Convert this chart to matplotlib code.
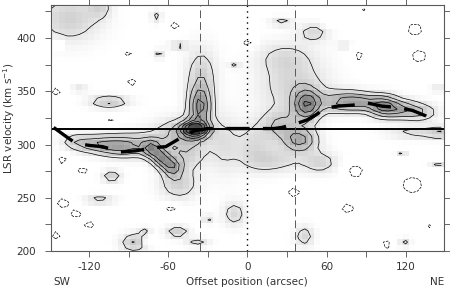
import numpy as np
import matplotlib
matplotlib.use("Agg")
import matplotlib.pyplot as plt

plt.rcParams['axes.unicode_minus'] = False

# emission components: offset ("), velocity (km/s), widths, peak (in contour units)
blob_x = [-40, -36, -35, -50, -18, -73, -65, -57, -52, -85, -45,
          -112, -95, -130, -105, -127, -103, -112, -86, -78, -53, -38, -30,
          -135, -112, -69, -67, -52,
          45, 40, 25, 35, 28, 50, 5, 20, 55,
          70, 85, 103, 117, 132, 130, 147,
          43, 26, 73, 145, 117, 119, 145, -10, -10]
blob_v = [314, 335, 365, 310, 300, 296, 287, 279, 263, 300, 290,
          300, 297, 303, 340, 352, 270, 248, 208, 218, 218, 208, 230,
          418, 430, 420, 385, 393,
          337, 304, 318, 355, 382, 405, 300, 285, 283,
          340, 340, 336, 333, 330, 311, 311,
          214, 415, 393, 352, 292, 208, 281, 235, 374]
blob_sx = [7, 6, 8, 14, 8, 5, 5, 5, 10, 14, 10,
           12, 10, 8, 10, 4, 5, 8, 7, 3, 6, 6, 3,
           16, 6, 3, 3, 5,
           7, 9, 10, 18, 15, 8, 10, 15, 9,
           12, 10, 8, 9, 9, 16, 6,
           5, 6, 4, 4, 3, 3, 5, 6, 3]
blob_sv = [5, 13, 18, 10, 20, 6, 6, 6, 10, 8, 10,
           6, 6, 5, 4, 2, 4, 3, 6, 3, 4, 3, 3,
           15, 8, 4, 3, 3,
           10, 8, 10, 18, 10, 6, 15, 8, 7,
           7, 6, 7, 6, 6, 4, 4,
           7, 3, 2, 2, 2, 3, 2, 8, 2]
blob_amp = [6.0, 4.0, 1.7, 2.2, 1.1, 3.2, 3.6, 3.2, 1.8, 1.8, 1.5,
            2.6, 1.6, 1.4, 2.2, 1.4, 1.9, 1.5, 2.1, 1.3, 1.9, 1.4, 1.3,
            1.8, 1.4, 1.4, 1.4, 1.4,
            4.2, 3.2, 2.0, 1.6, 1.1, 1.5, 1.3, 1.4, 1.6,
            2.4, 2.4, 3.8, 2.5, 1.7, 1.4, 1.4,
            1.6, 1.4, 1.4, 1.3, 1.3, 1.4, 1.3, 1.6, 1.3]

# negative (dashed) patches
neg_x = [-144, -145, -90, -88, -55, -103, -140, -125, -140, -130, -145, -120, -58, -75,
         82, 35, 76, 125, 137, 105, 127, 130, 0, 62, 85, 87]
neg_v = [395, 350, 385, 358, 412, 324, 285, 275, 245, 235, 215, 225, 240, 210,
         275, 255, 240, 262, 222, 206, 408, 383, 395, 414, 383, 425]
neg_s = [3, 4, 3, 4, 4, 3, 4, 4, 5, 4, 4, 4, 4, 3,
         6, 5, 5, 8, 3, 4, 6, 6, 4, 3, 4, 3]

# model rotation curve (thick dashes)
curve_x = [-147, -137, -130, -119, -110, -96, -85, -71, -62, -51, -40, -30, 0, 20, 26,
           38, 45, 52, 59, 68, 80, 91, 102, 112, 125, 135, 144]
curve_v = [316, 307, 301, 299, 298, 293, 294, 297, 298, 306, 313, 315, 315, 315, 316,
           320, 323, 328, 334, 336, 337, 339, 336, 335, 332, 327, 320]

xs = np.arange(-150, 150.1, 4.5)
vs = np.arange(198, 433, 5.2)
X, V = np.meshgrid(xs, vs)
field = np.zeros_like(X)
for x0, v0, sx, sv, a in zip(blob_x, blob_v, blob_sx, blob_sv, blob_amp):
    field += a * np.exp(-0.5 * (((X - x0) / sx) ** 2 + ((V - v0) / sv) ** 2))
for x0, v0, s in zip(neg_x, neg_v, neg_s):
    field -= 1.5 * np.exp(-0.5 * (((X - x0) / s) ** 2 + ((V - v0) / s) ** 2))

fig = plt.figure(figsize=(4.5, 2.89), dpi=100)
ax = fig.add_axes([51/450, 38/289, 393/450, 246/289])

ax.imshow(field, origin='lower', cmap='gray_r', vmin=0, vmax=10,
          extent=[xs[0]-2.25, xs[-1]+2.25, vs[0]-2.6, vs[-1]+2.6],
          aspect='auto', interpolation='nearest')
ax.contour(X, V, field, levels=[1, 2, 3, 4, 5, 6], colors='k', linewidths=0.5)
ax.contour(X, V, field, levels=[-1], colors='k', linewidths=0.5, linestyles='--')

ax.axhline(315, color='k', lw=1.4)
ax.axvline(-36, color='0.35', lw=0.7, ls=(0, (8, 4)))
ax.axvline(36, color='0.35', lw=0.7, ls=(0, (8, 4)))
ax.axvline(0, color='k', lw=1.0, ls=(0, (1, 3)))
ax.plot(curve_x, curve_v, color='k', lw=2.4, ls=(0, (7, 4)))

ax.set_xlim(-149, 149)
ax.set_ylim(200, 431)
ax.set_xticks(np.arange(-120, 121, 30))
ax.set_xticklabels(['-120', '', '-60', '', '0', '', '60', '', '120'])
ax.set_yticks(np.arange(200, 426, 25))
ax.set_yticklabels(['200', '', '250', '', '300', '', '350', '', '400', ''])
ax.tick_params(direction='out', length=4, width=0.6, top=True, right=True,
               labelsize=7.5, colors='0.3', labelcolor='0.2')
ax.tick_params(axis='y', pad=7)
ax.tick_params(axis='x', pad=4)
for s in ax.spines.values():
    s.set_color('0.35')
    s.set_linewidth(0.8)

fig.text(9/450, 1 - 118/289, 'LSR velocity (km s$^{-1}$)', rotation=90, ha='center',
         va='center', fontsize=7.5, color='0.2')
fig.text(247/450, 1 - 282/289, 'Offset position (arcsec)', ha='center', va='center',
         fontsize=7.5, color='0.2')
fig.text(53/450, 1 - 282/289, 'SW', ha='left', va='center', fontsize=7.5, color='0.2')
fig.text(444/450, 1 - 282/289, 'NE', ha='right', va='center', fontsize=7.5, color='0.2')

fig.savefig('out.png', dpi=100)
